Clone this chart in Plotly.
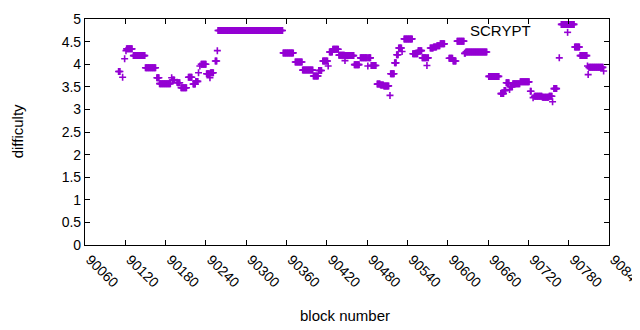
import plotly.graph_objects as go

# Run-length encoded difficulty per block: (first block, last block, difficulty)
run_start = [90110, 90116, 90119, 90121, 90122, 90132, 90150, 90167, 90171, 90189,
             90190, 90197, 90198, 90203, 90214, 90221, 90225, 90229, 90231, 90233,
             90241, 90246, 90247, 90254, 90257, 90258, 90355, 90373, 90384, 90400,
             90408, 90414, 90422, 90424, 90429, 90438, 90447, 90448, 90461, 90470,
             90481, 90482, 90486, 90495, 90500, 90505, 90514, 90515, 90521, 90524,
             90527, 90532, 90535, 90548, 90556, 90562, 90569, 90570, 90574, 90579,
             90584, 90589, 90602, 90608, 90614, 90625, 90627, 90661, 90679, 90684,
             90687, 90692, 90693, 90697, 90708, 90723, 90727, 90729, 90741, 90751,
             90756, 90758, 90766, 90769, 90789, 90797, 90808, 90809, 90810, 90832]
run_end = [90112, 90116, 90119, 90121, 90130, 90149, 90165, 90170, 90187, 90189,
           90193, 90197, 90201, 90211, 90219, 90224, 90228, 90229, 90231, 90240,
           90245, 90246, 90251, 90256, 90257, 90354, 90370, 90383, 90399, 90407,
           90412, 90421, 90422, 90428, 90437, 90446, 90447, 90460, 90468, 90480,
           90481, 90485, 90493, 90499, 90504, 90512, 90514, 90520, 90523, 90526,
           90531, 90532, 90547, 90555, 90561, 90568, 90569, 90571, 90578, 90583,
           90588, 90595, 90607, 90612, 90624, 90626, 90658, 90676, 90683, 90686,
           90691, 90692, 90696, 90707, 90721, 90724, 90727, 90740, 90750, 90755,
           90756, 90762, 90766, 90788, 90796, 90807, 90808, 90809, 90831, 90832]
run_value = [3.84, 3.71, 4.12, 4.30, 4.34, 4.19, 3.92, 3.70, 3.57, 3.70,
             3.65, 3.60, 3.59, 3.48, 3.71, 3.56, 3.62, 3.81, 3.96, 4.00,
             3.79, 3.70, 3.81, 4.07, 4.30, 4.745, 4.25, 4.05, 3.87, 3.74,
             3.86, 4.07, 3.96, 4.27, 4.33, 4.20, 4.08, 4.19, 3.99, 4.14,
             3.96, 4.14, 3.97, 3.56, 3.54, 3.52, 3.31, 3.79, 4.03, 4.21,
             4.36, 4.28, 4.56, 4.23, 4.30, 4.14, 3.97, 4.14, 4.36, 4.38,
             4.41, 4.45, 4.13, 4.07, 4.51, 4.24, 4.27, 3.73, 3.35, 3.42,
             3.59, 3.44, 3.50, 3.57, 3.61, 3.40, 3.26, 3.29, 3.27, 3.29,
             3.17, 3.46, 4.14, 4.88, 4.38, 4.19, 3.96, 3.77, 3.93, 3.85]

x_ticks = list(range(90060, 90841, 60))
x_tick_labels = [str(t) for t in x_ticks]
y_ticks = [0, 0.5, 1, 1.5, 2, 2.5, 3, 3.5, 4, 4.5, 5]
y_tick_labels = ["0", "0.5", "1", "1.5", "2", "2.5", "3", "3.5", "4", "4.5", "5"]
series_name = "SCRYPT"
COLOR = "#9400D3"

blocks, values = [], []
for s, e, v in zip(run_start, run_end, run_value):
    for b in range(s, e + 1):
        blocks.append(b)
        values.append(v)

fig = go.Figure()
fig.add_trace(go.Scatter(
    x=blocks, y=values, mode="markers", name=series_name, showlegend=False,
    marker=dict(symbol="cross-thin", size=5, color=COLOR,
                line=dict(color=COLOR, width=1.6)),
))

FONT = "Liberation Sans"
axis_common = dict(showgrid=False, zeroline=False, showline=True, mirror="ticks",
                   linecolor="black", linewidth=1.2, ticks="inside", ticklen=5,
                   tickcolor="black", tickwidth=1.2, automargin=False,
                   ticklabeloverflow="allow",
                   tickfont=dict(family=FONT, size=14, color="black"))

fig.update_xaxes(range=[90060, 90840], tickvals=x_ticks, ticktext=x_tick_labels,
                 tickangle=45, ticklabelshift=5, **axis_common)
fig.update_yaxes(range=[0, 5], tickvals=y_ticks, ticktext=y_tick_labels, **axis_common)

# key sample (+) after the title text, as gnuplot draws it
kx, ky, dx, dy = 0.921, 0.941, 0.0067, 0.0155
fig.add_shape(type="line", xref="paper", yref="paper", x0=kx - dx, x1=kx + dx, y0=ky, y1=ky,
              line=dict(color=COLOR, width=1.6))
fig.add_shape(type="line", xref="paper", yref="paper", x0=kx, x1=kx, y0=ky - dy, y1=ky + dy,
              line=dict(color=COLOR, width=1.6))

# the page body has an 8px margin; margins compensate so the plot box sits where the reference has it
fig.update_layout(
    width=640, height=322,
    margin=dict(l=76.5, r=39, t=11, b=84.5, autoexpand=False),
    paper_bgcolor="white", plot_bgcolor="white",
    font=dict(family=FONT, size=14, color="black"),
    annotations=[
        dict(text=series_name, xref="paper", yref="paper", x=0.855, y=0.947,
             xanchor="right", yanchor="middle", showarrow=False,
             font=dict(family=FONT, size=15, color="black")),
        dict(text="difficulty", xref="paper", yref="paper", x=-0.1287, y=0.501,
             xanchor="center", yanchor="middle", textangle=-90, showarrow=False,
             font=dict(family=FONT, size=15, color="black")),
        dict(text="block number", xref="paper", yref="paper", x=0.4967, y=-0.311,
             xanchor="center", yanchor="middle", showarrow=False,
             font=dict(family=FONT, size=15, color="black")),
    ],
)

fig.write_html("out.html")
